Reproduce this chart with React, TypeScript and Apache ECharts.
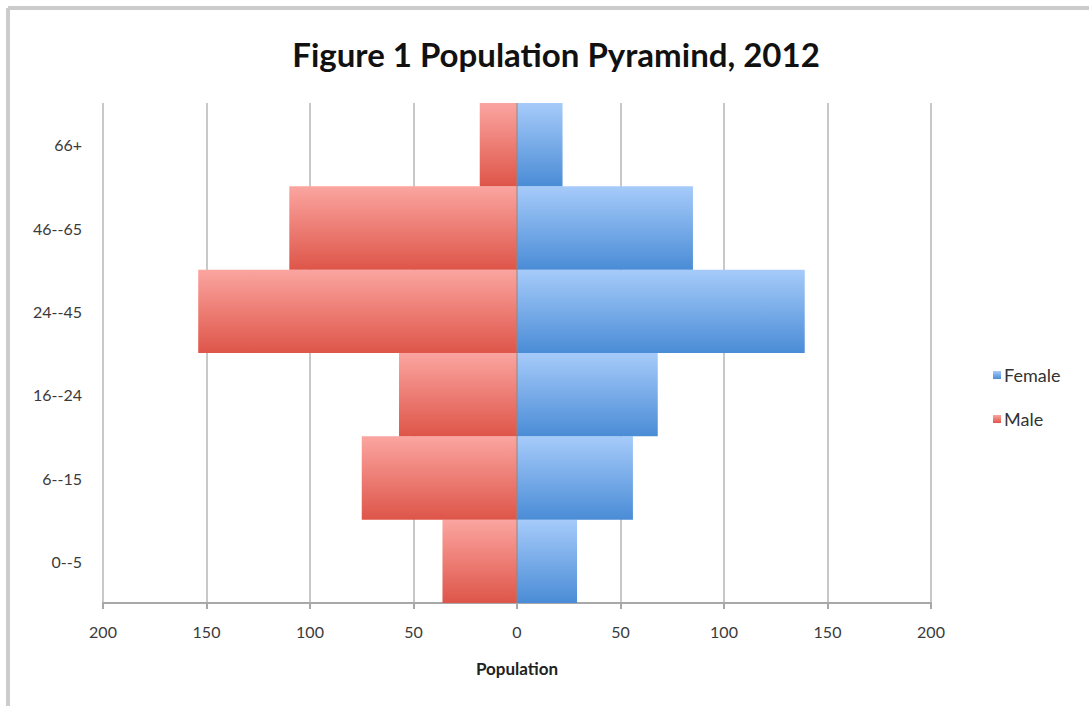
import React, { useEffect, useRef } from "react";
import * as echarts from "echarts";

// Age groups, bottom to top
const ageGroups = ["0--5", "6--15", "16--24", "24--45", "46--65", "66+"];
// Head counts per age group
const femaleValues = [29, 56, 68, 139, 85, 22];
const maleValues = [36, 75, 57, 154, 110, 18];
const tickValues = [-200, -150, -100, -50, 0, 50, 100, 150, 200];

const FONT = "Lato, 'Open Sans', sans-serif";

function gradient(top: string, bottom: string) {
  return new echarts.graphic.LinearGradient(0, 0, 0, 1, [
    { offset: 0, color: top },
    { offset: 1, color: bottom },
  ]);
}

export default function App() {
  const ref = useRef<HTMLDivElement>(null);

  useEffect(() => {
    if (!ref.current) return;
    const chart = echarts.init(ref.current, undefined, { renderer: "svg" });
    chart.setOption({
      animation: false,
      backgroundColor: "#ffffff",
      title: {
        text: "Figure 1 Population Pyramind, 2012",
        left: 551,
        textAlign: "center",
        top: 32,
        textStyle: {
          fontFamily: FONT,
          fontSize: 33,
          fontWeight: "bold",
          color: "#111111",
        },
      },
      legend: {
        orient: "vertical",
        left: 988,
        top: 361,
        itemWidth: 8,
        itemHeight: 8,
        itemGap: 26,
        icon: "rect",
        data: ["Female", "Male"],
        textStyle: { fontFamily: FONT, fontSize: 18, color: "#333333", padding: [0, 0, 0, -2] },
      },
      grid: { left: 103, right: 158, top: 103, bottom: 103, containLabel: false },
      xAxis: {
        type: "value",
        min: tickValues[0],
        max: tickValues[tickValues.length - 1],
        interval: 50,
        name: "Population",
        nameLocation: "middle",
        nameGap: 57,
        nameTextStyle: { fontFamily: FONT, fontSize: 17, fontWeight: "bold", color: "#222222" },
        axisLine: { show: true, lineStyle: { color: "#a8a8a8", width: 2 } },
        axisTick: { show: true, length: 6, lineStyle: { color: "#a8a8a8", width: 2 } },
        axisLabel: {
          fontFamily: FONT,
          fontSize: 16,
          color: "#3a3a3a",
          margin: 20,
          formatter: (v: number) => String(Math.abs(v)),
        },
        splitLine: { show: true, lineStyle: { color: "#c8c8c8", width: 2 } },
      },
      yAxis: {
        type: "category",
        data: ageGroups,
        position: "left",
        axisLine: { show: false },
        axisTick: { show: false },
        axisLabel: { fontFamily: FONT, fontSize: 16, color: "#3a3a3a", margin: 21 },
      },
      series: [
        {
          name: "Female",
          type: "bar",
          stack: "pop",
          barWidth: "100%",
          data: femaleValues,
          itemStyle: { color: gradient("#a6cbfa", "#4a8cd6") },
        },
        {
          name: "Male",
          type: "bar",
          stack: "pop",
          barWidth: "100%",
          data: maleValues.map((v) => -v),
          itemStyle: { color: gradient("#fba5a0", "#de5549") },
        },
      ],
      graphic: [
        {
          type: "line",
          shape: { x1: 8, y1: 8, x2: 1089, y2: 8 },
          style: { stroke: "#cccccc", lineWidth: 4 },
        },
        {
          type: "line",
          shape: { x1: 8, y1: 8, x2: 8, y2: 706 },
          style: { stroke: "#cccccc", lineWidth: 4 },
        },
        {
          type: "line",
          shape: { x1: 517, y1: 103, x2: 517, y2: 603 },
          style: { stroke: "#8a8a8a", lineWidth: 1 },
          z: 10,
        },
      ],
    });
    return () => chart.dispose();
  }, []);

  return (
    <div
      ref={ref}
      style={{ position: "absolute", left: 0, top: 0, width: 1089, height: 706 }}
    />
  );
}
